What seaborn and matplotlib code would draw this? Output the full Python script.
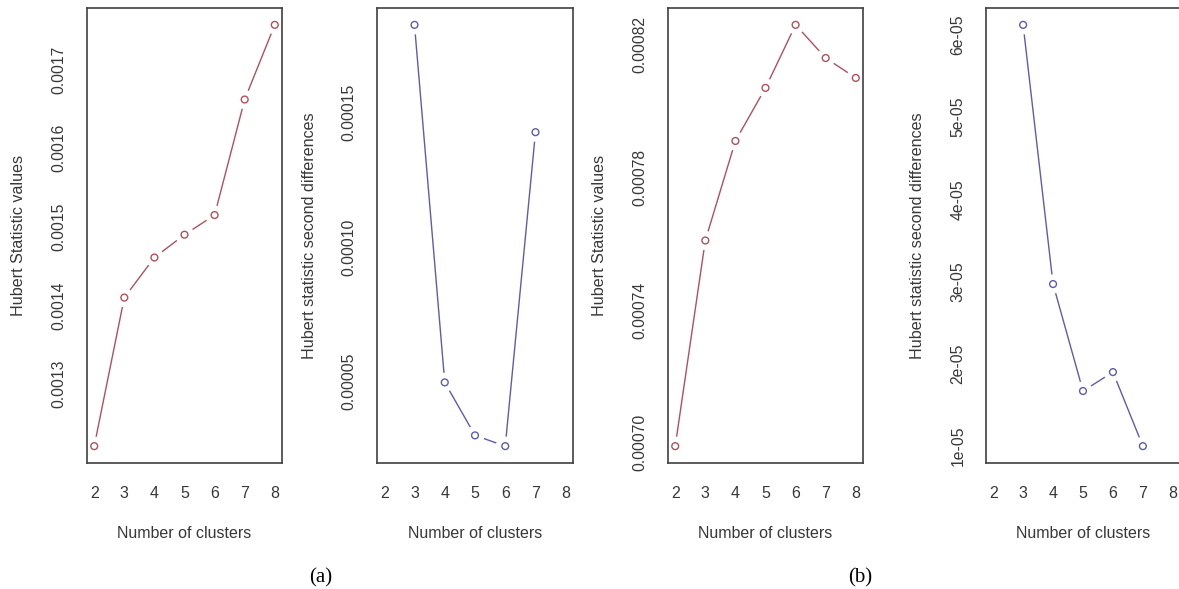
import matplotlib
matplotlib.use("Agg")
import seaborn as sns
import matplotlib.pyplot as plt

# values
clusters = [2, 3, 4, 5, 6, 7, 8]
clusters_diff = [3, 4, 5, 6, 7]

hubert_a = [0.001221, 0.001410, 0.001461, 0.001490, 0.001515, 0.001662, 0.001757]
diff_a = [0.0001826, 0.0000497, 0.0000300, 0.0000260, 0.0001427]
hubert_b = [0.000699, 0.000761, 0.000791, 0.000807, 0.000826, 0.000816, 0.000810]
diff_b = [6.12e-05, 2.97e-05, 1.67e-05, 1.90e-05, 1.00e-05]

yticks_1 = [0.0013, 0.0014, 0.0015, 0.0016, 0.0017]
ylabels_1 = ["0.0013", "0.0014", "0.0015", "0.0016", "0.0017"]
yticks_2 = [0.00005, 0.00010, 0.00015]
ylabels_2 = ["0.00005", "0.00010", "0.00015"]
yticks_3 = [0.00070, 0.00074, 0.00078, 0.00082]
ylabels_3 = ["0.00070", "0.00074", "0.00078", "0.00082"]
yticks_4 = [1e-05, 2e-05, 3e-05, 4e-05, 5e-05, 6e-05]
ylabels_4 = ["1e-05", "2e-05", "3e-05", "4e-05", "5e-05", "6e-05"]

xlabel = "Number of clusters"
ylabel_values = "Hubert Statistic values"
ylabel_diff = "Hubert statistic second differences"

RED = "#b0505c"
BLUE = "#5c5cb0"
TXT = "#383838"

sns.set_style("white")
plt.rcParams["font.family"] = ["Liberation Sans", "DejaVu Sans"]

W, H = 1179, 589
fig = plt.figure(figsize=(W / 100, H / 100), dpi=100)

# pixel boxes (left, right) of the four panels, shared top/bottom
boxes = [(87, 282), (377, 573), (668, 863), (986, 1180)]
top, bottom = 8, 463

panels = [
    (clusters, hubert_a, RED, yticks_1, ylabels_1, ylabel_values),
    (clusters_diff, diff_a, BLUE, yticks_2, ylabels_2, ylabel_diff),
    (clusters, hubert_b, RED, yticks_3, ylabels_3, ylabel_values),
    (clusters_diff, diff_b, BLUE, yticks_4, ylabels_4, ylabel_diff),
]

for (l, r), (xs, ys, col, yt, yl, ylab) in zip(boxes, panels):
    w, h = r - l, bottom - top
    ax = fig.add_axes([l / W, 1 - bottom / H, w / W, h / H])

    sns.lineplot(x=xs, y=ys, color=col, lw=1.0, sort=False, estimator=None,
                 ax=ax, zorder=2)
    # white discs make the gaps around points (R type="b")
    sns.scatterplot(x=xs, y=ys, s=190, color="white", edgecolor="none",
                    ax=ax, zorder=2.2)
    sns.scatterplot(x=xs, y=ys, s=24, facecolor="none", edgecolor=col,
                    linewidth=1.0, ax=ax, zorder=3)

    lo, hi = min(ys), max(ys)
    pad = (hi - lo) * 0.04
    ax.set_ylim(lo - pad, hi + pad)
    ax.set_xlim(2 - 0.24, 8 + 0.24)

    ax.set_xticks(clusters, [str(c) for c in clusters])
    ax.set_yticks(yt, yl, rotation=90, ha="center", va="center")
    ax.tick_params(axis="x", length=0, pad=22, labelsize=11.5, labelcolor=TXT)
    ax.tick_params(axis="y", length=0, pad=20, labelsize=11.3, labelcolor=TXT)
    for t in ax.get_xticklabels():
        t.set_va("center")

    ax.set_xlabel(xlabel, fontsize=11.5, color=TXT, va="center")
    ax.xaxis.set_label_coords(0.5, -71 / h)
    ax.set_ylabel(ylab, fontsize=11.6, color=TXT, va="center")
    ax.yaxis.set_label_coords(-68 / w, 0.5)

    for sp in ax.spines.values():
        sp.set_visible(True)
        sp.set_color("#404040")
        sp.set_linewidth(1.2)

fig.text(321 / W, 1 - 578 / H, "(a)", family="Liberation Serif", fontsize=15,
         ha="center", va="center", color="black")
fig.text(860 / W, 1 - 578 / H, "(b)", family="Liberation Serif", fontsize=15,
         ha="center", va="center", color="black")

fig.savefig("out.png", dpi=100, facecolor="white")
